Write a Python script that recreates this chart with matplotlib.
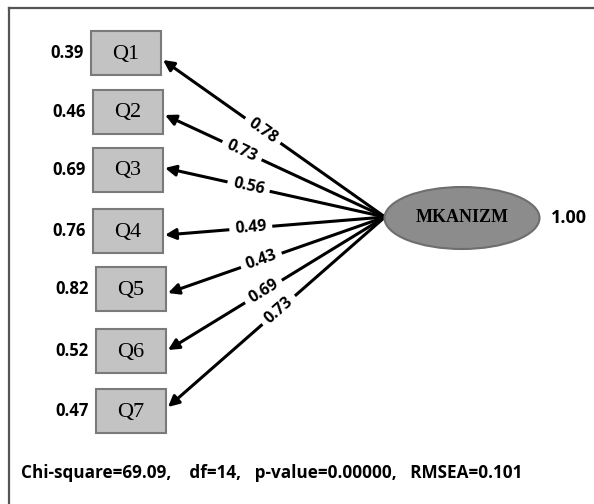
import math
import matplotlib.pyplot as plt
from matplotlib.patches import Rectangle, Ellipse

# data
items = ["Q1", "Q2", "Q3", "Q4", "Q5", "Q6", "Q7"]
loadings = [0.78, 0.73, 0.56, 0.49, 0.43, 0.69, 0.73]
errors = [0.39, 0.46, 0.69, 0.76, 0.82, 0.52, 0.47]
latent = "MKANIZM"
latent_var = 1.00
fit_text = "Chi-square=69.09,    df=14,   p-value=0.00000,   RMSEA=0.101"

# layout (pixel coords, y down)
box_left = [91, 93, 93, 93, 96, 96, 96]
box_top = [31, 90, 148, 209, 267, 329, 389]
box_w, box_h = 70, 44
tip_y = [60, 115, 168, 235, 293, 350, 407]
label_frac = [0.55, 0.65, 0.62, 0.61, 0.57, 0.56, 0.49]
src = (385, 217)
ell_c, ell_w, ell_h = (462, 218), 155, 62

num_font = ["Open Sans", "DejaVu Sans"]

fig = plt.figure(figsize=(5.94, 5.04), dpi=100)
ax = fig.add_axes([0, 0, 1, 1])
ax.set_xlim(0, 594)
ax.set_ylim(504, 0)
ax.axis("off")

# frame (top and left only)
ax.plot([9, 594], [8, 8], color="#555555", lw=1.6)
ax.plot([9, 9], [8, 504], color="#555555", lw=1.6)

for i, name in enumerate(items):
    x0, y0 = box_left[i], box_top[i]
    ax.add_patch(Rectangle((x0, y0), box_w, box_h, facecolor="#c3c3c3",
                           edgecolor="#7a7a7a", lw=1.5, zorder=2))
    ax.text(x0 + box_w / 2, y0 + box_h / 2 + 1, name, ha="center", va="center",
            fontsize=16, family="Liberation Serif", zorder=3)
    ax.text(x0 - 7, y0 + box_h / 2, "%.2f" % errors[i], ha="right", va="center",
            fontsize=12, fontweight="bold", family=num_font)

    tip = (x0 + box_w + 2, tip_y[i])
    ax.annotate("", xy=tip, xytext=src,
                arrowprops=dict(arrowstyle="-|>", lw=2.2, color="black",
                                mutation_scale=16, shrinkA=0, shrinkB=0),
                zorder=1)
    f = label_frac[i]
    lx = src[0] + (tip[0] - src[0]) * f
    ly = src[1] + (tip[1] - src[1]) * f
    ang = -math.degrees(math.atan2(src[1] - tip[1], src[0] - tip[0]))
    ax.text(lx, ly, "%.2f" % loadings[i], ha="center", va="center",
            rotation=ang, rotation_mode="anchor", fontsize=11.5,
            fontweight="bold", family=num_font,
            bbox=dict(facecolor="white", edgecolor="none", pad=4), zorder=4)

ax.add_patch(Ellipse(ell_c, ell_w, ell_h, facecolor="#8c8c8c",
                     edgecolor="#6e6e6e", lw=1.5, zorder=2))
ax.text(ell_c[0], ell_c[1], latent, ha="center", va="center", fontsize=13,
        fontweight="bold", family="Liberation Serif", zorder=3)
ax.text(569, 218, "%.2f" % latent_var, ha="center", va="center", fontsize=13,
        fontweight="bold", family=num_font)

ax.text(21, 473, fit_text, ha="left", va="center", fontsize=12.3,
        fontweight="bold", family=num_font)

fig.savefig("out.png", dpi=100)
